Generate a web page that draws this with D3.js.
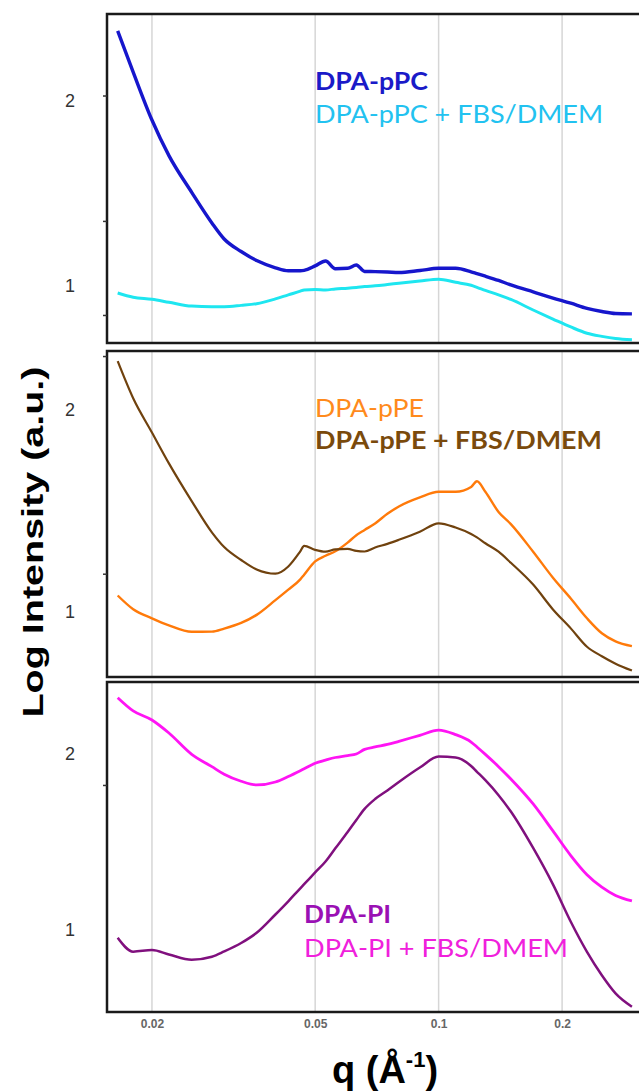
<!DOCTYPE html>
<html>
<head>
<meta charset="utf-8">
<script src="https://cdn.jsdelivr.net/npm/d3@7"></script>
<style>
  body { margin: 0; background: #fff; }
  svg { display: block; background: #fff; }
</style>
</head>
<body>
<svg width="639" height="1092"></svg>
<script>
// q grid (1/A), shared by all six curves
const qValues = [0.0165, 0.018, 0.02, 0.022, 0.025, 0.028, 0.03, 0.033, 0.036, 0.04,
  0.043, 0.046, 0.047, 0.05, 0.053, 0.056, 0.06, 0.063, 0.066, 0.07,
  0.075, 0.08, 0.09, 0.1, 0.11, 0.12, 0.124, 0.13, 0.14, 0.15,
  0.17, 0.19, 0.21, 0.23, 0.25, 0.27, 0.296];

// panel 1
const pcValues = [2.381, 2.157, 1.897, 1.704, 1.505, 1.339, 1.252, 1.184, 1.135, 1.096,
  1.080, 1.080, 1.082, 1.106, 1.133, 1.091, 1.093, 1.111, 1.076, 1.075,
  1.073, 1.070, 1.081, 1.093, 1.093, 1.074, 1.064, 1.050, 1.027, 1.003,
  0.965, 0.932, 0.904, 0.876, 0.859, 0.848, 0.846];
const pcFbsValues = [0.959, 0.936, 0.925, 0.909, 0.888, 0.885, 0.885, 0.892, 0.901, 0.927,
  0.949, 0.969, 0.976, 0.978, 0.976, 0.981, 0.985, 0.989, 0.994, 0.998,
  1.005, 1.012, 1.024, 1.034, 1.017, 1.001, 0.990, 0.973, 0.949, 0.924,
  0.867, 0.818, 0.775, 0.741, 0.724, 0.712, 0.705];

// panel 2
const peValues = [1.079, 1.011, 0.966, 0.931, 0.899, 0.900, 0.915, 0.943, 0.983, 1.056,
  1.108, 1.159, 1.182, 1.248, 1.276, 1.298, 1.341, 1.378, 1.404, 1.436,
  1.484, 1.520, 1.565, 1.593, 1.593, 1.617, 1.645, 1.593, 1.493, 1.433,
  1.296, 1.167, 1.064, 0.966, 0.892, 0.852, 0.828];
const peFbsValues = [2.241, 2.057, 1.887, 1.734, 1.547, 1.392, 1.319, 1.255, 1.208, 1.187,
  1.223, 1.298, 1.325, 1.305, 1.296, 1.308, 1.310, 1.300, 1.297, 1.317,
  1.335, 1.355, 1.395, 1.437, 1.416, 1.384, 1.367, 1.338, 1.296, 1.241,
  1.133, 1.010, 0.916, 0.825, 0.778, 0.741, 0.707];

// panel 3
const piValues = [0.956, 0.877, 0.886, 0.861, 0.831, 0.848, 0.878, 0.926, 0.984, 1.088,
  1.163, 1.237, 1.260, 1.327, 1.389, 1.464, 1.557, 1.625, 1.688, 1.744,
  1.793, 1.841, 1.923, 1.985, 1.980, 1.932, 1.899, 1.851, 1.766, 1.673,
  1.466, 1.259, 1.047, 0.876, 0.743, 0.640, 0.564];
const piFbsValues = [2.320, 2.245, 2.193, 2.119, 1.998, 1.928, 1.885, 1.845, 1.824, 1.841,
  1.872, 1.905, 1.916, 1.947, 1.965, 1.980, 1.991, 2.000, 2.026, 2.040,
  2.054, 2.072, 2.106, 2.136, 2.110, 2.068, 2.040, 1.998, 1.928, 1.858,
  1.716, 1.563, 1.423, 1.314, 1.243, 1.196, 1.165];

const seriesNames = [["DPA-pPC", "DPA-pPC + FBS/DMEM"],
  ["DPA-pPE", "DPA-pPE + FBS/DMEM"],
  ["DPA-PI", "DPA-PI + FBS/DMEM"]];
const qTicks = [0.02, 0.05, 0.1, 0.2];
const yLabelTicks = [1, 2];

let svg = d3.select("svg");
const W = 639, left = 107;

let x = d3.scaleLog().domain([0.01554, 0.308]).range([left, W]);

// layout / style per panel
let panels = [
  {top: 14, bottom: 343, dom: [0.688, 2.472], minor: [2.03, 1.35, 0.84],
   series: [
     {values: pcValues, color: "#1616cc", width: 3.4},
     {values: pcFbsValues, color: "#1ee6f0", width: 3}],
   legend: [
     {text: seriesNames[0][0], x: 315, y: 90, len: 113, color: "#1a1ac8", weight: "bold"},
     {text: seriesNames[0][1], x: 315, y: 123, len: 288, color: "#22c2f0", weight: "normal"}]},
  {top: 351, bottom: 677, dom: [0.675, 2.291], minor: [2.266, 1.187],
   series: [
     {values: peValues, color: "#ff7a0a", width: 2.4},
     {values: peFbsValues, color: "#70420e", width: 2.2}],
   legend: [
     {text: seriesNames[1][0], x: 315, y: 417, len: 109, color: "#ff8a1c", weight: "normal"},
     {text: seriesNames[1][1], x: 315, y: 449, len: 287, color: "#7a4a0c", weight: "bold"}]},
  {top: 682, bottom: 1012, dom: [0.534, 2.409], minor: [1.824],
   series: [
     {values: piValues, color: "#80107e", width: 2.5},
     {values: piFbsValues, color: "#ff14f4", width: 2.8}],
   legend: [
     {text: seriesNames[2][0], x: 304, y: 923, len: 87, color: "#9a10b4", weight: "bold"},
     {text: seriesNames[2][1], x: 304, y: 957, len: 264, color: "#f020dc", weight: "normal"}]}
];

panels.forEach(function (p, i) {
  let y = d3.scaleLinear().domain(p.dom).range([p.bottom, p.top]);
  let g = svg.append("g");

  // vertical grid
  g.selectAll(".grid")
    .data(qTicks)
    .enter().append("line")
    .attr("x1", d => x(d)).attr("x2", d => x(d))
    .attr("y1", p.top).attr("y2", p.bottom)
    .attr("stroke", "#d6d6d6")
    .attr("stroke-width", 1.5);

  let line = d3.line()
    .x((d, k) => x(qValues[k]))
    .y(d => y(d))
    .curve(d3.curveMonotoneX);

  p.series.forEach(function (s) {
    g.append("path")
      .datum(s.values)
      .attr("d", line)
      .attr("fill", "none")
      .attr("stroke", s.color)
      .attr("stroke-width", s.width)
      .attr("stroke-linejoin", "round");
  });

  // frame (right edge falls outside the picture)
  g.append("rect")
    .attr("x", left).attr("y", p.top)
    .attr("width", W - left + 10).attr("height", p.bottom - p.top)
    .attr("fill", "none")
    .attr("stroke", "#1a1a1a")
    .attr("stroke-width", 2.5);

  // y labels 1 and 2
  let ya = g.append("g")
    .attr("transform", "translate(" + left + ",0)")
    .call(d3.axisLeft(y).tickValues(yLabelTicks).tickSize(0).tickPadding(32).tickFormat(d3.format("d")));
  ya.select(".domain").remove();
  ya.selectAll("text")
    .attr("font-family", "Liberation Sans, Arial, sans-serif")
    .attr("font-size", 18)
    .attr("fill", "#333");

  // small ticks on the left axis
  let ym = g.append("g")
    .attr("transform", "translate(" + left + ",0)")
    .call(d3.axisLeft(y).tickValues(p.minor).tickSize(4).tickFormat(""));
  ym.select(".domain").remove();
  ym.selectAll("line").attr("stroke", "#333").attr("stroke-width", 1.5);

  // legend text
  p.legend.forEach(function (t) {
    g.append("text")
      .attr("x", t.x).attr("y", t.y)
      .attr("font-family", "Lato, 'Open Sans', sans-serif")
      .attr("font-weight", t.weight)
      .attr("font-size", 25)
      .attr("fill", t.color)
      .attr("textLength", t.len)
      .attr("lengthAdjust", "spacingAndGlyphs")
      .text(t.text);
  });

  if (i === panels.length - 1) {
    let xa = g.append("g")
      .attr("transform", "translate(0," + p.bottom + ")")
      .call(d3.axisBottom(x).tickValues(qTicks).tickSize(0).tickPadding(7).tickFormat(d3.format("~g")));
    xa.select(".domain").remove();
    xa.selectAll("text")
      .attr("font-family", "Liberation Sans, Arial, sans-serif")
      .attr("font-size", 12)
      .attr("font-weight", "bold")
      .attr("fill", "#666");
  }
});

// axis titles
svg.append("text")
  .attr("transform", "translate(43,542) rotate(-90)")
  .attr("text-anchor", "middle")
  .attr("font-family", "Liberation Sans, Arial, sans-serif")
  .attr("font-weight", "bold")
  .attr("font-size", 30)
  .attr("fill", "#000")
  .attr("textLength", 351)
  .attr("lengthAdjust", "spacingAndGlyphs")
  .text("Log Intensity (a.u.)");

let xt = svg.append("text")
  .attr("x", 385).attr("y", 1083)
  .attr("text-anchor", "middle")
  .attr("font-family", "Liberation Sans, Arial, sans-serif")
  .attr("font-weight", "bold")
  .attr("font-size", 38)
  .attr("fill", "#000");
xt.append("tspan").text("q (Å");
xt.append("tspan").attr("font-size", 22).attr("dy", -16).text("-1");
xt.append("tspan").attr("dy", 16).text(")");
</script>
</body>
</html>
